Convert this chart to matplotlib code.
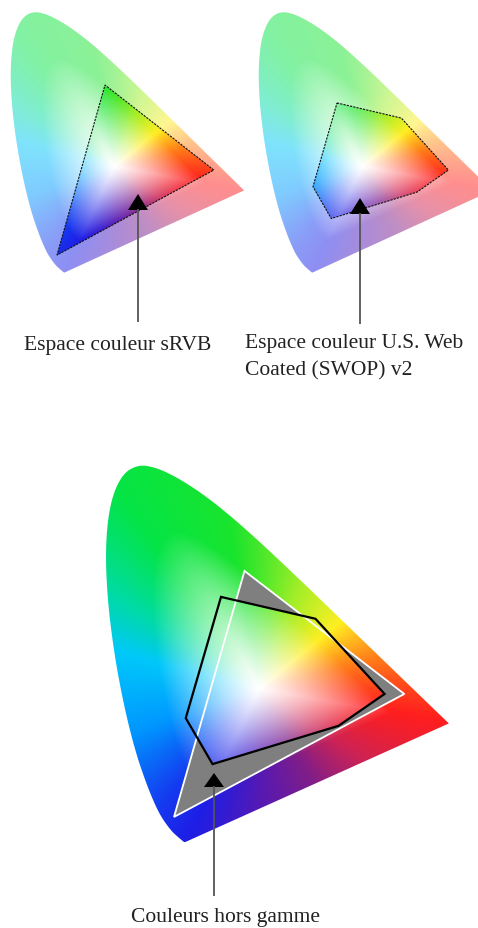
import numpy as np
import matplotlib
matplotlib.use("Agg")
import matplotlib.pyplot as plt
from matplotlib.patches import Polygon

W, H = 478, 929

# CIE 1931 spectral locus (380 -> 700 nm)
locus_x = [0.1741, 0.1738, 0.1733, 0.1726, 0.1714, 0.1689, 0.1644, 0.1566, 0.1440,
           0.1241, 0.1096, 0.0913, 0.0687, 0.0454, 0.0235, 0.0082, 0.0039, 0.0139,
           0.0389, 0.0743, 0.1142, 0.1547, 0.1929, 0.2296, 0.2658, 0.3016, 0.3373,
           0.3731, 0.4087, 0.4441, 0.4788, 0.5125, 0.5448, 0.5752, 0.6029, 0.6270,
           0.6658, 0.6915, 0.7079, 0.7190, 0.7260, 0.7300, 0.7334, 0.7347]
locus_y = [0.0050, 0.0049, 0.0048, 0.0048, 0.0051, 0.0069, 0.0109, 0.0177, 0.0297,
           0.0578, 0.0868, 0.1327, 0.2007, 0.2950, 0.4127, 0.5384, 0.6548, 0.7502,
           0.8120, 0.8338, 0.8262, 0.8059, 0.7816, 0.7543, 0.7243, 0.6923, 0.6589,
           0.6245, 0.5896, 0.5547, 0.5202, 0.4866, 0.4544, 0.4242, 0.3965, 0.3725,
           0.3340, 0.3083, 0.2920, 0.2809, 0.2740, 0.2700, 0.2666, 0.2653]

# gamuts
srgb_x = [0.64, 0.30, 0.15]
srgb_y = [0.33, 0.60, 0.06]
swop_x = [0.250, 0.451, 0.598, 0.500, 0.232, 0.175]
swop_y = [0.543, 0.495, 0.330, 0.260, 0.176, 0.277]

labels = ["Espace couleur sRVB",
          "Espace couleur U.S. Web\nCoated (SWOP) v2",
          "Couleurs hors gamme"]

XLIM, YLIM = 0.8, 0.9
WX, WY = 0.33, 0.34  # white centre of the fill

# hue around the white point (angle in degrees, colour)
hue_ang = [-115, -90, -60, -35, -10, 15, 40, 70, 100, 125, 145, 165, 200, 230, 245]
hue_col = np.array([[30, 30, 230], [85, 25, 180], [130, 30, 135], [205, 35, 85],
                    [255, 30, 30], [255, 125, 25], [255, 238, 35], [160, 238, 40],
                    [25, 228, 45], [5, 228, 70], [0, 220, 160], [0, 200, 250],
                    [0, 150, 255], [20, 60, 240], [30, 30, 230]]) / 255


def smooth_open(pts, n=3):
    # chaikin, endpoints kept so the blue/red corners stay sharp
    for _ in range(n):
        q = 0.75 * pts[:-1] + 0.25 * pts[1:]
        r = 0.25 * pts[:-1] + 0.75 * pts[1:]
        mid = np.empty((2 * len(q), 2))
        mid[0::2], mid[1::2] = q, r
        pts = np.vstack([pts[:1], mid, pts[-1:]])
    return pts


locus = smooth_open(np.column_stack([locus_x, locus_y]))


def hue_image(n=500):
    xs = np.linspace(0, XLIM, n)
    ys = np.linspace(0, YLIM, n)
    X, Y = np.meshgrid(xs, ys)
    th = np.degrees(np.arctan2(Y - WY, X - WX))
    phi = np.where(th > -115, th, th + 360)

    # distance from white to the locus edge, per angle
    close = np.linspace(locus[-1], locus[0], 60)
    edge = np.vstack([locus, close])
    bth = np.degrees(np.arctan2(edge[:, 1] - WY, edge[:, 0] - WX))
    brad = np.hypot(edge[:, 0] - WX, edge[:, 1] - WY)
    order = np.argsort(bth)
    R = np.interp(th, bth[order], brad[order], period=360)
    s = np.hypot(X - WX, Y - WY) / R
    f = np.clip(s / 0.7, 0, 1) ** 1.2

    hue = np.stack([np.interp(phi, hue_ang, hue_col[:, k]) for k in range(3)], -1)
    return np.clip(1 - f[..., None] * (1 - hue), 0, 1)


fig = plt.figure(figsize=(W / 100, H / 100), dpi=100)
rgb = hue_image()
pastel = 1 - 0.5 * (1 - rgb)


def diagram_axes(x0, y0, sx, sy):
    # x0, y0 = pixel of xy origin, sx, sy = pixels per unit
    ax = fig.add_axes([x0 / W, (H - y0) / H, XLIM * sx / W, YLIM * sy / H])
    ax.set_xlim(0, XLIM)
    ax.set_ylim(0, YLIM)
    ax.axis("off")
    return ax


def colour_fill(ax, img, clip_xy, z=1):
    im = ax.imshow(img, origin="lower", extent=(0, XLIM, 0, YLIM),
                   interpolation="bilinear", zorder=z, aspect="auto")
    clip = Polygon(clip_xy, closed=True, transform=ax.transData)
    im.set_clip_path(clip)
    return im


srgb = np.column_stack([srgb_x, srgb_y])
swop = np.column_stack([swop_x, swop_y])

# diagram 1: sRGB
ax1 = diagram_axes(9, 275, 320, 315)
colour_fill(ax1, pastel, locus)
colour_fill(ax1, rgb, srgb, z=2)
ax1.add_patch(Polygon(srgb, closed=True, fill=False,
                      ec="#111111", lw=0.8, ls=(0, (2, 1)), zorder=3))

# diagram 2: SWOP
ax2 = diagram_axes(257, 275, 320, 315)
colour_fill(ax2, pastel, locus)
colour_fill(ax2, rgb, swop, z=2)
ax2.add_patch(Polygon(swop, closed=True, fill=False,
                      ec="#111111", lw=0.8, ls=(0, (2, 1)), zorder=3))

# diagram 3: comparison, out-of-gamut area in grey
ax3 = diagram_axes(103.5, 845.3, 470, 455.6)
colour_fill(ax3, rgb, locus)
ax3.add_patch(Polygon(srgb, closed=True, fc="#7f7f7f", ec="none", zorder=2))
colour_fill(ax3, rgb, swop, z=3)
ax3.add_patch(Polygon(srgb, closed=True, fill=False, ec="white", lw=1.3, zorder=4))
ax3.add_patch(Polygon(swop, closed=True, fill=False, ec="black", lw=1.6,
                      joinstyle="miter", zorder=5))

# overlay in pixel coords for callouts
ov = fig.add_axes([0, 0, 1, 1], facecolor="none")
ov.set_xlim(0, W)
ov.set_ylim(H, 0)
ov.axis("off")


def callout(x, y_tail, y_tip, head_h=16, head_w=10):
    ov.plot([x, x], [y_tail, y_tip + head_h - 1], color="#555555", lw=1.3,
            solid_capstyle="butt")
    ov.add_patch(Polygon([[x, y_tip], [x - head_w, y_tip + head_h],
                          [x + head_w, y_tip + head_h]], closed=True,
                         fc="black", ec="none"))


callout(138, 323, 195)
callout(360, 325, 199)
callout(214, 897, 774, head_h=14)

font = dict(family="Liberation Serif", fontsize=15.5, color="#222222")
ov.text(118, 350, labels[0], ha="center", va="baseline", **font)
ov.text(245, 334, labels[1], ha="left", va="top", linespacing=1.55, **font)
ov.text(226, 922, labels[2], ha="center", va="baseline", **font)

fig.savefig("out.png", dpi=100)
